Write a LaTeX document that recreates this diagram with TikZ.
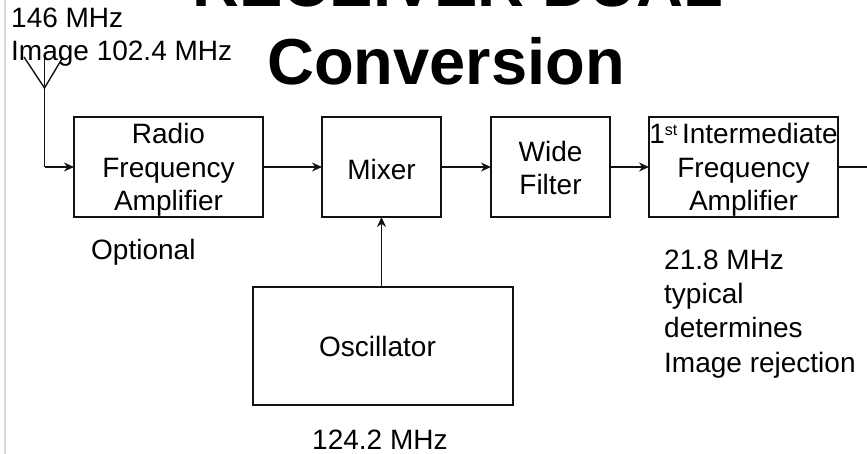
\documentclass[tikz,border=0pt]{standalone}
\usepackage{fontspec}
\setmainfont{Liberation Sans}
\usepackage{tikz}
\usetikzlibrary{arrows.meta, positioning}
\definecolor{cEdge}{HTML}{111111}
\definecolor{cRule}{HTML}{D9D9D9}
\newcommand{\lift}[1]{\rule{0pt}{#1}}
\tikzset{
  box/.style={
    rectangle, draw=cEdge, line width=1.4pt, inner sep=0pt, outer sep=0pt,
    minimum height=100pt, align=center,
    font=\fontsize{28}{33.5}\selectfont
  },
  wbox/.style={box, minimum width=189pt},
  nbox/.style={box, minimum width=119pt},
  arrow/.style={-{Stealth[length=10pt, width=9pt]}, line width=1.4pt, cEdge},
  wire/.style={line width=1.4pt, cEdge},
  label/.style={anchor=base west, align=left, inner sep=0pt,
    font=\fontsize{28}{33}\selectfont},
  heading/.style={align=center, inner sep=0pt,
    font=\fontsize{65}{78}\selectfont\bfseries},
}

\begin{document}
\begin{tikzpicture}[x=1pt, y=-1pt, node distance=59pt and 59pt]

  \useasboundingbox (0,0) rectangle (867,454);

  % Page edge
  \coordinate (edgetop) at (5,0);
  \coordinate (edgebot) at (5,454);
  \draw[cRule, line width=1.4pt] (edgetop) -- (edgebot);

  % Title
  \node[heading, anchor=base] (titlea) at (458,7) {RECEIVER DUAL};
  \node[heading, anchor=base] (titleb) at (446,85) {Conversion};

  % Main chain
  \node[wbox, anchor=north west] (rf) at (74,117) {
    \lift{26.5pt}Radio\\
    Frequency\\
    Amplifier
  };
  \node[nbox, right=59pt of rf] (mix) {\lift{26pt}Mixer};
  \node[nbox, right=50pt of mix] (filt) {
    \lift{22pt}Wide\\
    Filter
  };
  \node[wbox, right=39pt of filt] (ifa) {
    \lift{26.5pt}1\raisebox{8pt}{\fontsize{16}{16}\selectfont st}\kern-3pt{} Intermediate\\
    Frequency\\
    Amplifier
  };

  % Oscillator
  \node[box, minimum width=260pt, minimum height=118pt, anchor=north west]
    (osc) at (253,287) {\lift{22pt}Oscillator\kern11pt};

  % Antenna
  \coordinate (ant) at (44.5,88);
  \coordinate (antl) at (24,57);
  \coordinate (antm) at (44.5,57);
  \coordinate (antr) at (63,57);
  \coordinate (antb) at (44.5,167);
  \coordinate (out) at (867,167);
  \draw[wire] (antl) -- (ant) -- (antr);
  \draw[wire] (antm) -- (antb);

  % Labels
  \node[label] (rx) at (11,61) {146 MHz\\Image 102.4 MHz};
  \node[label] (opt) at (91,260) {Optional};
  \node[label, font=\fontsize{28}{34.3}\selectfont] (ifl) at (664,372)
    {21.8 MHz\\typical\\determines\\Image rejection};
  \node[label] (lo) at (312,449) {124.2 MHz};

  % Arrows main
  \draw[arrow] (antb) -- (rf.west);
  \draw[arrow] (rf) -- (mix);
  \draw[arrow] (mix) -- (filt);
  \draw[arrow] (filt) -- (ifa);
  \draw[wire] (ifa) -- (out);
  \draw[arrow] (osc.north -| mix.south) -- (mix.south);

\end{tikzpicture}
\end{document}
